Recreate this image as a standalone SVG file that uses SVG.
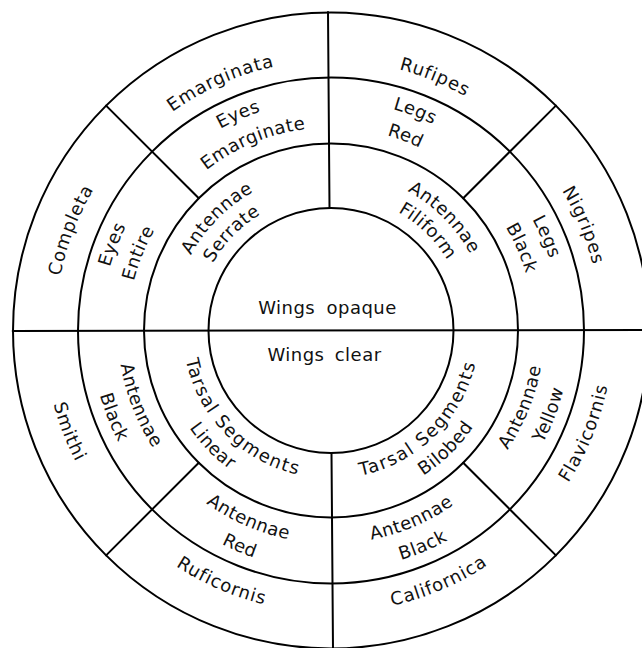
<svg xmlns="http://www.w3.org/2000/svg" xmlns:xlink="http://www.w3.org/1999/xlink" width="642" height="648" viewBox="0 0 642 648">
<style>
.ln{fill:none;stroke:#000;stroke-width:2;stroke-linecap:round}
text{font-family:"DejaVu Sans","Liberation Sans",sans-serif;font-size:18px;letter-spacing:0.5px;fill:#111}
.c{text-anchor:middle}
.w{letter-spacing:0.9px}
.t{letter-spacing:1.5px}
</style>
<defs>
<path id="po270" d="M77.3,238.2 A270,270 0 0 1 584.7,238.2"/>
<path id="po276" d="M71.6,236.1 A276,276 0 0 1 590.4,236.1"/>
<path id="po230" d="M114.9,251.8 A230,230 0 0 1 547.1,251.8"/>
<path id="po203" d="M140.2,261.1 A203,203 0 0 1 521.8,261.1"/>
<path id="po159" d="M181.6,276.1 A159,159 0 0 1 480.4,276.1"/>
<path id="po136" d="M203.2,284 A136,136 0 0 1 458.8,284"/>
<path id="pi282" d="M66,426.9 A282,282 0 0 0 596,426.9"/>
<path id="pi287" d="M61.3,428.7 A287,287 0 0 0 600.7,428.7"/>
<path id="pi240" d="M105.5,412.6 A240,240 0 0 0 556.5,412.6"/>
<path id="pi213" d="M130.8,403.3 A213,213 0 0 0 531.2,403.3"/>
<path id="pi172" d="M169.4,389.3 A172,172 0 0 0 492.6,389.3"/>
<path id="pi148" d="M191.9,381.1 A148,148 0 0 0 470.1,381.1"/>
</defs>
<rect width="642" height="648" fill="#fff"/>
<g id="connectors">
<circle class="ln" cx="331" cy="330.5" r="318"/>
<circle class="ln" cx="331" cy="330.5" r="253"/>
<circle class="ln" cx="331" cy="330.5" r="187"/>
<circle class="ln" cx="331" cy="330.5" r="122.5"/>
<path class="ln" d="M12.7,331 L642,330"/>
<path class="ln" d="M328,12 L329.5,208"/>
<path class="ln" d="M331.5,453 L333,648"/>
<path class="ln" d="M198.8,198.3 L106.1,105.6"/>
<path class="ln" d="M463.2,198.3 L555.9,105.6"/>
<path class="ln" d="M198.8,462.7 L106.1,555.4"/>
<path class="ln" d="M463.2,462.7 L555.9,555.4"/>
</g>
<g id="wings-opaque"><text class="c" x="327.5" y="314">Wings <tspan dx="5">opaque</tspan></text></g>
<g id="wings-clear"><text class="c" x="324.5" y="361">Wings <tspan dx="4">clear</tspan></text></g>
<g id="antennae-serrate">
<text transform="rotate(-45.4 331 330.5)"><textPath xlink:href="#po159" startOffset="50%" class="c">Antennae</textPath></text>
<text transform="rotate(-45.7 331 330.5)"><textPath xlink:href="#po136" startOffset="50%" class="c">Serrate</textPath></text>
</g>
<g id="antennae-filiform">
<text transform="rotate(45.1 331 330.5)"><textPath xlink:href="#po159" startOffset="50%" class="c">Antennae</textPath></text>
<text transform="rotate(44.3 331 330.5)"><textPath xlink:href="#po136" startOffset="50%" class="c">Filiform</textPath></text>
</g>
<g id="tarsal-linear">
<text class="t" transform="rotate(45.6 331 330.5)"><textPath xlink:href="#pi148" startOffset="50%" class="c">Tarsal Segments</textPath></text>
<text transform="rotate(45.7 331 330.5)"><textPath xlink:href="#pi172" startOffset="50%" class="c">Linear</textPath></text>
</g>
<g id="tarsal-bilobed">
<text class="t" transform="rotate(-44.5 331 330.5)"><textPath xlink:href="#pi148" startOffset="50%" class="c">Tarsal Segments</textPath></text>
<text transform="rotate(-44.2 331 330.5)"><textPath xlink:href="#pi172" startOffset="50%" class="c">Bilobed</textPath></text>
</g>
<g id="eyes-emarginate">
<text transform="rotate(-23.2 331 330.5)"><textPath xlink:href="#po230" startOffset="50%" class="c">Eyes</textPath></text>
<text transform="rotate(-22.5 331 330.5)"><textPath xlink:href="#po203" startOffset="50%" class="c">Emarginate</textPath></text>
</g>
<g id="eyes-entire">
<text transform="rotate(-68.5 331 330.5)"><textPath xlink:href="#po230" startOffset="50%" class="c">Eyes</textPath></text>
<text transform="rotate(-68.1 331 330.5)"><textPath xlink:href="#po203" startOffset="50%" class="c">Entire</textPath></text>
</g>
<g id="legs-red">
<text transform="rotate(21 331 330.5)"><textPath xlink:href="#po230" startOffset="50%" class="c">Legs</textPath></text>
<text transform="rotate(21 331 330.5)"><textPath xlink:href="#po203" startOffset="50%" class="c">Red</textPath></text>
</g>
<g id="legs-black">
<text transform="rotate(66.5 331 330.5)"><textPath xlink:href="#po230" startOffset="50%" class="c">Legs</textPath></text>
<text transform="rotate(66.6 331 330.5)"><textPath xlink:href="#po203" startOffset="50%" class="c">Black</textPath></text>
</g>
<g id="antennae-black-left">
<text transform="rotate(68.6 331 330.5)"><textPath xlink:href="#pi213" startOffset="50%" class="c">Antennae</textPath></text>
<text transform="rotate(68.3 331 330.5)"><textPath xlink:href="#pi240" startOffset="50%" class="c">Black</textPath></text>
</g>
<g id="antennae-red">
<text transform="rotate(23.7 331 330.5)"><textPath xlink:href="#pi213" startOffset="50%" class="c">Antennae</textPath></text>
<text transform="rotate(22.9 331 330.5)"><textPath xlink:href="#pi240" startOffset="50%" class="c">Red</textPath></text>
</g>
<g id="antennae-black-right">
<text transform="rotate(-23.1 331 330.5)"><textPath xlink:href="#pi213" startOffset="50%" class="c">Antennae</textPath></text>
<text transform="rotate(-23.1 331 330.5)"><textPath xlink:href="#pi240" startOffset="50%" class="c">Black</textPath></text>
</g>
<g id="antennae-yellow">
<text transform="rotate(-68.1 331 330.5)"><textPath xlink:href="#pi213" startOffset="50%" class="c">Antennae</textPath></text>
<text transform="rotate(-68.9 331 330.5)"><textPath xlink:href="#pi240" startOffset="50%" class="c">Yellow</textPath></text>
</g>
<g id="emarginata"><text class="w" transform="rotate(-24 331 330.5)"><textPath xlink:href="#po270" startOffset="50%" class="c">Emarginata</textPath></text></g>
<g id="rufipes"><text class="w" transform="rotate(22.3 331 330.5)"><textPath xlink:href="#po270" startOffset="50%" class="c">Rufipes</textPath></text></g>
<g id="completa"><text class="w" transform="rotate(-68.9 331 330.5)"><textPath xlink:href="#po276" startOffset="50%" class="c">Completa</textPath></text></g>
<g id="nigripes"><text class="w" transform="rotate(67.4 331 330.5)"><textPath xlink:href="#po270" startOffset="50%" class="c">Nigripes</textPath></text></g>
<g id="smithi"><text class="w" transform="rotate(68.9 331 330.5)"><textPath xlink:href="#pi287" startOffset="50%" class="c">Smithi</textPath></text></g>
<g id="ruficornis"><text class="w" transform="rotate(23.5 331 330.5)"><textPath xlink:href="#pi282" startOffset="50%" class="c">Ruficornis</textPath></text></g>
<g id="californica"><text class="w" transform="rotate(-23.2 331 330.5)"><textPath xlink:href="#pi282" startOffset="50%" class="c">Californica</textPath></text></g>
<g id="flavicornis"><text class="w" transform="rotate(-68 331 330.5)"><textPath xlink:href="#pi282" startOffset="50%" class="c">Flavicornis</textPath></text></g>
</svg>
